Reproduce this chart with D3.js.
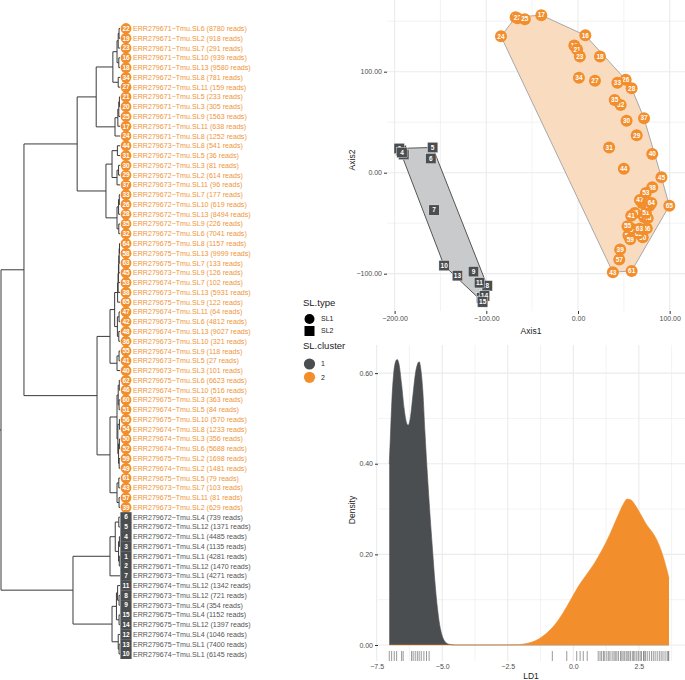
<!DOCTYPE html>
<html>
<head>
<meta charset="utf-8">
<script src="https://cdn.jsdelivr.net/npm/d3@7"></script>
<style>
  body { margin: 0; background: #fff; }
  svg { font-family: "Liberation Sans", Arial, sans-serif; }
</style>
</head>
<body>
<div id="chart"></div>
<script>
// ---- data (sample id = index + 1) ----
var sampleRun = [
  "ERR279671", "ERR279671", "ERR279671", "ERR279672", "ERR279672", "ERR279672", "ERR279673", "ERR279673", "ERR279673",
  "ERR279674", "ERR279674", "ERR279674", "ERR279675", "ERR279675", "ERR279675",
  "ERR279671", "ERR279671", "ERR279671", "ERR279671", "ERR279671", "ERR279671", "ERR279671", "ERR279671", "ERR279671", "ERR279671",
  "ERR279672", "ERR279672", "ERR279672", "ERR279672", "ERR279672", "ERR279672", "ERR279672", "ERR279672", "ERR279672", "ERR279672",
  "ERR279673", "ERR279673", "ERR279673", "ERR279673", "ERR279673", "ERR279673", "ERR279673", "ERR279673", "ERR279673", "ERR279673",
  "ERR279674", "ERR279674", "ERR279674", "ERR279674", "ERR279674", "ERR279674", "ERR279674", "ERR279674", "ERR279674", "ERR279674",
  "ERR279675", "ERR279675", "ERR279675", "ERR279675", "ERR279675", "ERR279675", "ERR279675", "ERR279675", "ERR279675", "ERR279675"
];
var sampleSL = [
  "SL1", "SL12", "SL4", "SL1", "SL12", "SL4", "SL1", "SL12", "SL4", "SL1", "SL12", "SL4", "SL1", "SL12", "SL4",
  "SL10", "SL11", "SL13", "SL2", "SL3", "SL5", "SL6", "SL7", "SL8", "SL9",
  "SL10", "SL11", "SL13", "SL2", "SL3", "SL5", "SL6", "SL7", "SL8", "SL9",
  "SL10", "SL11", "SL13", "SL2", "SL3", "SL5", "SL6", "SL7", "SL8", "SL9",
  "SL10", "SL11", "SL13", "SL2", "SL3", "SL5", "SL6", "SL7", "SL8", "SL9",
  "SL10", "SL11", "SL13", "SL2", "SL3", "SL5", "SL6", "SL7", "SL8", "SL9"
];
var sampleReads = [
  4281, 1470, 1135, 4485, 1371, 739, 4271, 721, 354, 6145, 1342, 1046, 7400, 1397, 1152,
  939, 638, 9580, 918, 305, 233, 8780, 291, 1252, 1563,
  619, 159, 8494, 614, 81, 36, 7041, 177, 781, 226,
  321, 96, 5931, 629, 101, 27, 4812, 103, 541, 126,
  516, 64, 9027, 1481, 356, 84, 5688, 102, 1233, 118,
  570, 81, 9999, 1698, 363, 79, 6623, 133, 1157, 122
];
var sampleCluster = [
  1, 1, 1, 1, 1, 1, 1, 1, 1, 1, 1, 1, 1, 1, 1,
  2, 2, 2, 2, 2, 2, 2, 2, 2, 2, 2, 2, 2, 2, 2, 2, 2, 2, 2, 2, 2, 2, 2, 2, 2,
  2, 2, 2, 2, 2, 2, 2, 2, 2, 2, 2, 2, 2, 2, 2, 2, 2, 2, 2, 2, 2, 2, 2, 2, 2
];

// hclust-style merges: negative = sample id, positive = earlier merge, then height
var treeMerges = [
  [-22, -19, 0.8], [1, -23, 1.5], [-16, -18, 1.0], [2, 3, 2.5], [-34, -27, 1.5], [4, 5, 6.0],
  [-21, -20, 0.5], [7, -25, 1.0], [8, -17, 1.8], [9, -24, 4.2], [6, 10, 20],
  [-44, -31, 2.2], [-30, -29, 1.2], [13, -37, 2.5], [12, 14, 6.7],
  [-33, -26, 0.6], [16, -28, 1.2], [-35, -32, 1.0], [17, 18, 2.5], [15, 19, 11.8], [11, 20, 36],
  [-64, -58, 0.4], [22, -63, 0.7], [23, -45, 1.0], [24, -53, 1.3], [25, -38, 1.6], [26, -65, 2.0],
  [-47, -42, 0.8], [-48, -36, 1.0], [28, 29, 2.2], [27, 30, 4.5],
  [-55, -41, 0.8], [32, -40, 2.5], [31, 33, 8.4],
  [-62, -46, 0.6], [-60, -51, 0.8], [35, 36, 1.5], [-56, -54, 0.5], [-50, -52, 0.5], [-59, -49, 0.7],
  [39, 40, 1.2], [38, 41, 1.8], [37, 42, 2.5],
  [-61, -43, 1.0], [-57, -39, 0.8], [44, 45, 2.5], [43, 46, 8.4], [34, 47, 19.3], [21, 48, 80.7],
  [-6, -5, 1.0], [-4, -3, 0.5], [-1, -2, 0.6], [51, 52, 1.2], [50, 53, 4.0], [54, -7, 8.4],
  [-8, -9, 0.8], [-11, 56, 2.0], [-15, -14, 0.8], [57, 58, 3.0], [-13, -10, 0.8], [-12, 60, 1.5],
  [59, 61, 6.7], [55, 62, 39.5], [49, 63, 100]
];

// ordination coordinates
var pcoAxis1 = [
  -193, -195, -190, -192, -158.5, -160.5, -157, -99, -114, -146, -107.5, -105, -131.5, -102, -104,
  8, -40, 24, -4, -68, -1, -66, 2, -84, -58,
  52, 18.5, 58.5, 64, 53, 34, 46.5, 43, 1, 40,
  62, 72, 81, 46, 81, 58, 70, 38, 50, 91,
  72, 67.5, 76, 56, 58, 74, 55, 74, 60, 54,
  75, 45, 78, 57, 70.6, 58.5, 66, 67, 80, 99.6
];
var pcoAxis2 = [
  22, 24, 18, 20, 25, 14, -37, -112, -98, -92, -109, -124, -102, -122, -128,
  136, 156, 115, 126, 154, 122, 153, 115, 135, 152,
  92, 91, 83.5, 37, 51.5, 25, 67, 89, 94, 72,
  -40, 54, -14.5, -76, 18.5, -42.6, -30, -98.6, 4, -4.6,
  -44, -27, -45, -54, -58, -40, -62, -20, -56, -53,
  -55, -86, -32.7, -66, -64, -97.3, -60, -55.4, -30, -32.7
];

// LD1 density per cluster
var ldCluster1 = [-7.02, -6.97, -6.92, -6.85, -6.78, -6.72, -6.65, -6.55, -6.45, -6.36, -6.30, -6.22, -6.12, -6.02,
  -5.94, -5.88, -5.82, -5.74, -5.66, -5.57, -5.47, -5.37, -5.28, -5.18, -5.10, -5.00, -4.90, -4.80, -4.70,
  -4.50, -3.50, -2.50, -1.50, -0.50, 0.50, 1.50, 2.50, 3.65];
var densCluster1 = [0.40, 0.47, 0.54, 0.60, 0.625, 0.63, 0.62, 0.575, 0.52, 0.49, 0.485, 0.50, 0.55, 0.60,
  0.62, 0.625, 0.61, 0.56, 0.47, 0.38, 0.29, 0.21, 0.14, 0.08, 0.045, 0.02, 0.008, 0.003, 0.001,
  0, 0, 0, 0, 0, 0, 0, 0, 0];
var ldCluster2 = [-7.02, -5.0, -3.0, -2.2, -1.9, -1.6, -1.3, -1.0, -0.7, -0.4, -0.1, 0.2, 0.5, 0.8, 1.1, 1.4,
  1.7, 1.9, 2.05, 2.2, 2.4, 2.6, 2.8, 3.0, 3.2, 3.4, 3.55, 3.65];
var densCluster2 = [0, 0, 0, 0.0005, 0.002, 0.006, 0.014, 0.027, 0.045, 0.07, 0.1, 0.13, 0.155, 0.18, 0.21, 0.245,
  0.285, 0.31, 0.322, 0.32, 0.305, 0.285, 0.265, 0.25, 0.23, 0.2, 0.17, 0.147];
var rugLD1 = [-7.02, -6.93, -6.83, -6.74, -6.55, -6.49, -6.17, -6.11, -6.03, -5.95, -5.88, -5.80, -5.70, -5.60, -5.50,
  -0.80, -0.25, 0.13, 0.26, 0.38, 0.53, 0.95, 1.02, 1.08, 1.15, 1.20, 1.28, 1.35, 1.40, 1.48, 1.55, 1.60, 1.66,
  1.72, 1.80, 1.85, 1.90, 1.96, 2.02, 2.08, 2.12, 2.18, 2.25, 2.30, 2.35, 2.42, 2.48, 2.55, 2.60, 2.68, 2.70,
  2.75, 2.82, 2.90, 2.98, 3.05, 3.12, 3.20, 3.28, 3.35, 3.42, 3.50, 3.58, 3.62, 3.64];

var axis1Ticks = [-200, -100, 0, 100];
var axis2Ticks = [-100, 0, 100];
var ldTicks = [-7.5, -5, -2.5, 0, 2.5];
var densTicks = [0, 0.2, 0.4, 0.6];
var typeNames = ["SL1", "SL2"];
var clusterNames = ["1", "2"];

var clusterColor = { 1: "#4b4e50", 2: "#f28e2c" };
var gridColor = "#ebebeb";
var textColor = "#4d4d4d";

var svg = d3.select("#chart")
  .append("svg")
  .attr("width", 685)
  .attr("height", 680);

// ---- dendrogram ----
var xTree = d3.scaleLinear().domain([100, 0]).range([1, 120]);
var yRow = d3.scaleLinear().domain([0, 64]).range([28.5, 654]);

var mergeNodes = [];
function getNode(ref) {
  return ref < 0 ? { id: -ref, h: 0 } : mergeNodes[ref - 1];
}
treeMerges.forEach(function (m) {
  mergeNodes.push({ children: [getNode(m[0]), getNode(m[1])], h: m[2] });
});
var root = d3.hierarchy(mergeNodes[mergeNodes.length - 1]);
var leaves = root.leaves();
leaves.forEach(function (d, i) { d.py = yRow(i); });
root.eachAfter(function (d) {
  if (d.children) d.py = (d.children[0].py + d.children[d.children.length - 1].py) / 2;
  d.px = xTree(d.data.h);
});

var tree = svg.append("g").attr("class", "tree");
tree.selectAll("path.h")
  .data(root.descendants())
  .enter()
  .append("path")
  .attr("d", function (d) {
    var x0 = d.parent ? d.parent.px : 0;
    return "M" + x0 + "," + d.py + "H" + d.px;
  })
  .attr("fill", "none")
  .attr("stroke", "#3a3a3a")
  .attr("stroke-width", 1);
tree.selectAll("path.v")
  .data(root.descendants().filter(function (d) { return d.children; }))
  .enter()
  .append("path")
  .attr("d", function (d) {
    return "M" + d.px + "," + d.children[0].py + "V" + d.children[d.children.length - 1].py;
  })
  .attr("fill", "none")
  .attr("stroke", "#3a3a3a")
  .attr("stroke-width", 1);

var tips = tree.selectAll("g.tip")
  .data(leaves)
  .enter()
  .append("g")
  .attr("transform", function (d) { return "translate(126," + d.py + ")"; });
tips.filter(function (d) { return sampleCluster[d.data.id - 1] === 1; })
  .append("rect")
  .attr("x", -5.6).attr("y", -5)
  .attr("width", 11.2).attr("height", 10)
  .attr("fill", clusterColor[1]);
tips.filter(function (d) { return sampleCluster[d.data.id - 1] === 2; })
  .append("circle")
  .attr("r", 5.4)
  .attr("fill", clusterColor[2]);
tips.append("text")
  .attr("text-anchor", "middle")
  .attr("dy", "0.35em")
  .attr("font-size", 6.5)
  .attr("font-weight", "bold")
  .attr("fill", "#fff")
  .text(function (d) { return d.data.id; });
tips.append("text")
  .attr("x", 7)
  .attr("dy", "0.35em")
  .attr("font-size", 7.1)
  .attr("fill", function (d) { return sampleCluster[d.data.id - 1] === 1 ? "#555" : "#f0953a"; })
  .text(function (d) {
    var i = d.data.id - 1;
    return sampleRun[i] + "\u2212Tmu." + sampleSL[i] + " (" + sampleReads[i] + " reads)";
  });

// ---- ordination (top right) ----
var xPco = d3.scaleLinear().domain([-208.3, 116.7]).range([387, 685]);
var yPco = d3.scaleLinear().domain([-133, 171]).range([307, 0]);
var pco = svg.append("g").attr("class", "pco");

pco.selectAll("line.gx")
  .data([-150, -50, 50].concat(axis1Ticks))
  .enter().append("line")
  .attr("x1", function (d) { return xPco(d); }).attr("x2", function (d) { return xPco(d); })
  .attr("y1", 0).attr("y2", 311)
  .attr("stroke", gridColor).attr("stroke-width", function (d) { return d % 100 === 0 ? 1.1 : 0.6; });
pco.selectAll("line.gy")
  .data([-50, 50, 150].concat(axis2Ticks))
  .enter().append("line")
  .attr("x1", 387).attr("x2", 685)
  .attr("y1", function (d) { return yPco(d); }).attr("y2", function (d) { return yPco(d); })
  .attr("stroke", gridColor).attr("stroke-width", function (d) { return d % 100 === 0 ? 1.1 : 0.6; });

var pcoPts = pcoAxis1.map(function (v, i) {
  return { id: i + 1, x: xPco(v), y: yPco(pcoAxis2[i]), cl: sampleCluster[i] };
});
[1, 2].forEach(function (c) {
  var hull = d3.polygonHull(pcoPts.filter(function (p) { return p.cl === c; }).map(function (p) { return [p.x, p.y]; }));
  pco.append("path")
    .attr("d", "M" + hull.join("L") + "Z")
    .attr("fill", c === 1 ? "#c9cacb" : "#f9dcbf")
    .attr("stroke", c === 1 ? "#555" : "#a8a8a8")
    .attr("stroke-width", 1);
});

var pg = pco.selectAll("g.pt")
  .data(pcoPts)
  .enter().append("g")
  .attr("transform", function (d) { return "translate(" + d.x + "," + d.y + ")"; });
pg.filter(function (d) { return d.cl === 1; })
  .append("rect")
  .attr("x", -5.2).attr("y", -5.2).attr("width", 10.4).attr("height", 10.4)
  .attr("fill", clusterColor[1]).attr("stroke", "#fff").attr("stroke-width", 0.4);
pg.filter(function (d) { return d.cl === 2; })
  .append("circle")
  .attr("r", 6)
  .attr("fill", clusterColor[2]);
pg.append("text")
  .attr("text-anchor", "middle").attr("dy", "0.35em")
  .attr("font-size", 6.5).attr("font-weight", "bold").attr("fill", "#fff")
  .text(function (d) { return d.id; });

var ax1 = pco.append("g").attr("transform", "translate(0,311)")
  .call(d3.axisBottom(xPco).tickValues(axis1Ticks).tickFormat(d3.format(".2f")).tickSize(3).tickPadding(2));
var ax2 = pco.append("g").attr("transform", "translate(387,0)")
  .call(d3.axisLeft(yPco).tickValues(axis2Ticks).tickFormat(d3.format(".2f")).tickSize(3).tickPadding(2));
[ax1, ax2].forEach(function (a) {
  a.select(".domain").remove();
  a.selectAll("line").attr("stroke", "#333");
  a.selectAll("text").attr("font-size", 7).attr("fill", textColor).attr("font-family", null);
});
pco.append("text").attr("x", 531).attr("y", 334).attr("text-anchor", "middle")
  .attr("font-size", 8.5).attr("fill", "#222").text("Axis1");
pco.append("text").attr("transform", "translate(355,160) rotate(-90)").attr("text-anchor", "middle")
  .attr("font-size", 8.5).attr("fill", "#222").text("Axis2");

// ---- legend ----
var leg = svg.append("g").attr("class", "legend");
leg.append("text").attr("x", 303).attr("y", 306).attr("font-size", 9.5).attr("fill", "#222").text("SL.type");
typeNames.forEach(function (t, i) {
  var cy = 319 + i * 12;
  if (i === 0) leg.append("circle").attr("cx", 309.5).attr("cy", cy).attr("r", 5).attr("fill", "#000");
  else leg.append("rect").attr("x", 304.5).attr("y", cy - 5).attr("width", 10).attr("height", 10).attr("fill", "#000");
  leg.append("text").attr("x", 321).attr("y", cy).attr("dy", "0.35em").attr("font-size", 7).attr("fill", "#222").text(t);
});
leg.append("text").attr("x", 303).attr("y", 349).attr("font-size", 9.5).attr("fill", "#222").text("SL.cluster");
clusterNames.forEach(function (t, i) {
  var cy = 364 + i * 13.3;
  leg.append("circle").attr("cx", 309.5).attr("cy", cy).attr("r", 5.6).attr("fill", clusterColor[i + 1]);
  leg.append("text").attr("x", 321).attr("y", cy).attr("dy", "0.35em").attr("font-size", 7).attr("fill", "#222").text(t);
});

// ---- density (bottom right) ----
var xLd = d3.scaleLinear().domain([-7.45, 4.26]).range([378, 685]);
var yDens = d3.scaleLinear().domain([-0.0353, 0.662]).range([661, 345]);
var dens = svg.append("g").attr("class", "density");

dens.selectAll("line.gx")
  .data([-6.25, -3.75, -1.25, 1.25, 3.75].concat(ldTicks))
  .enter().append("line")
  .attr("x1", function (d) { return xLd(d); }).attr("x2", function (d) { return xLd(d); })
  .attr("y1", 345).attr("y2", 661)
  .attr("stroke", gridColor).attr("stroke-width", function (d) { return ldTicks.indexOf(d) >= 0 ? 1.1 : 0.6; });
dens.selectAll("line.gy")
  .data([0.1, 0.3, 0.5].concat(densTicks))
  .enter().append("line")
  .attr("x1", 378).attr("x2", 685)
  .attr("y1", function (d) { return yDens(d); }).attr("y2", function (d) { return yDens(d); })
  .attr("stroke", gridColor).attr("stroke-width", function (d) { return densTicks.indexOf(d) >= 0 ? 1.1 : 0.6; });

var area = d3.area()
  .x(function (d) { return xLd(d[0]); })
  .y0(yDens(0))
  .y1(function (d) { return yDens(d[1]); })
  .curve(d3.curveMonotoneX);
var line = d3.line()
  .x(function (d) { return xLd(d[0]); })
  .y(function (d) { return yDens(d[1]); })
  .curve(d3.curveMonotoneX);
[[ldCluster1, densCluster1, 1], [ldCluster2, densCluster2, 2]].forEach(function (s) {
  var pts = s[0].map(function (v, i) { return [v, s[1][i]]; });
  dens.append("path").attr("d", area(pts)).attr("fill", clusterColor[s[2]]);
  dens.append("path").attr("d", line(pts)).attr("fill", "none")
    .attr("stroke", clusterColor[s[2]]).attr("stroke-width", 0.6);
});

dens.selectAll("line.rug")
  .data(rugLD1)
  .enter().append("line")
  .attr("x1", function (d) { return xLd(d); }).attr("x2", function (d) { return xLd(d); })
  .attr("y1", 651).attr("y2", 661)
  .attr("stroke", "#555").attr("stroke-width", 0.6);

var ax3 = dens.append("g").attr("transform", "translate(0,661)")
  .call(d3.axisBottom(xLd).tickValues(ldTicks).tickFormat(d3.format(".1f")).tickSize(0).tickPadding(3));
var ax4 = dens.append("g").attr("transform", "translate(378,0)")
  .call(d3.axisLeft(yDens).tickValues(densTicks).tickFormat(d3.format(".2f")).tickSize(3).tickPadding(2));
[ax3, ax4].forEach(function (a) {
  a.select(".domain").remove();
  a.selectAll("line").attr("stroke", "#333");
  a.selectAll("text").attr("font-size", 7).attr("fill", textColor).attr("font-family", null);
});
dens.append("text").attr("x", 531).attr("y", 679).attr("text-anchor", "middle")
  .attr("font-size", 8.5).attr("fill", "#222").text("LD1");
dens.append("text").attr("transform", "translate(355,510) rotate(-90)").attr("text-anchor", "middle")
  .attr("font-size", 8.5).attr("fill", "#222").text("Density");
</script>
</body>
</html>
